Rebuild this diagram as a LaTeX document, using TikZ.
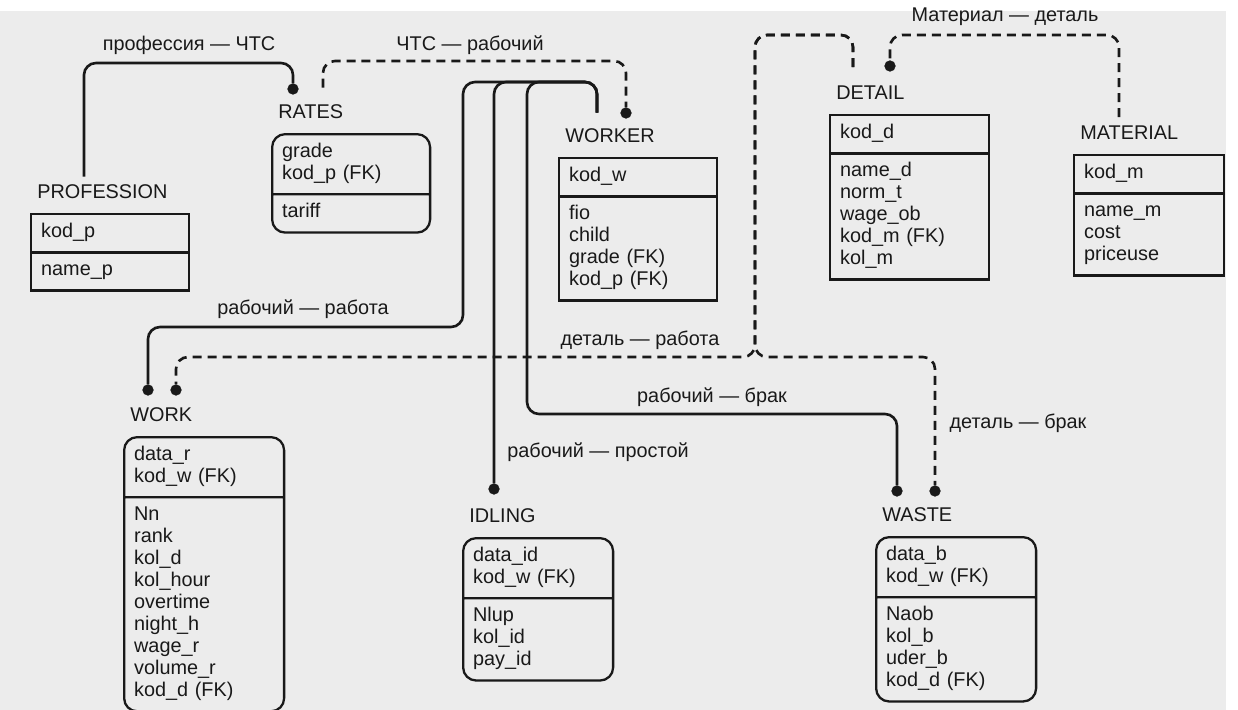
\documentclass[tikz,border=0pt]{standalone}
\usepackage{fontspec}
\setmainfont{Liberation Sans}
\usetikzlibrary{positioning,shapes.multipart}
\pgfdeclarelayer{background}
\pgfdeclarelayer{edgelayer}
\pgfdeclarelayer{nodelayer}
\pgfsetlayers{background,edgelayer,nodelayer,main}
\definecolor{paper}{rgb}{0.925,0.925,0.925}
\definecolor{ink}{rgb}{0.1,0.1,0.1}
\tikzstyle{none}=[inner sep=0pt]
\tikzstyle{entity}=[rectangle split,rectangle split parts=2,anchor=north west,draw=ink,line width=1.3pt,text=ink,align=left,text width=2.76cm,inner xsep=0.2cm,inner ysep=0.14cm,font=\fontsize{11.3}{12.5}\selectfont]
\tikzstyle{dependent}=[rounded corners=0.26cm]
\tikzstyle{title}=[inner sep=0pt,text=ink,font=\fontsize{11.3}{12.5}\selectfont]
\tikzstyle{relname}=[inner sep=0pt,text=ink,font=\fontsize{11.3}{12.5}\selectfont]
\tikzstyle{enddot}=[circle,fill=ink,draw=ink,inner sep=0pt,minimum size=0.21cm]
\tikzstyle{ident}=[-,draw=ink,line width=1.5pt,rounded corners=0.24cm]
\tikzstyle{nonident}=[ident,dash pattern=on 0.18cm off 0.12cm]

\begin{document}
\begin{tikzpicture}[x=0.02cm,y=-0.02cm]
	\useasboundingbox (0,0) rectangle (1238,710);
	\begin{pgfonlayer}{background}
		\fill [paper] (0,11) rectangle (1226,710);
	\end{pgfonlayer}
	\begin{pgfonlayer}{nodelayer}
		% entities
		\node [style=entity] (prof) at (30,213) {\strut kod\_p\nodepart{two}\strut name\_p};
		\node [style=entity, style=dependent] (rates) at (271,133) {\strut grade\\\strut kod\_p (FK)\nodepart{two}\strut tariff};
		\node [style=entity] (worker) at (558,157) {\strut kod\_w\nodepart{two}\strut fio\\\strut child\\\strut grade (FK)\\\strut kod\_p (FK)};
		\node [style=entity, text width=2.78cm] (detail) at (829,114) {\strut kod\_d\nodepart{two}\strut name\_d\\\strut norm\_t\\\strut wage\_ob\\\strut kod\_m (FK)\\\strut kol\_m};
		\node [style=entity, text width=2.6cm] (material) at (1073,154) {\strut kod\_m\nodepart{two}\strut name\_m\\\strut cost\\\strut priceuse};
		\node [style=entity, style=dependent, text width=2.8cm] (work) at (123,436) {\strut data\_r\\\strut kod\_w (FK)\nodepart{two}\strut Nn\\\strut rank\\\strut kol\_d\\\strut kol\_hour\\\strut overtime\\\strut night\_h\\\strut wage\_r\\\strut volume\_r\\\strut kod\_d (FK)};
		\node [style=entity, style=dependent, text width=2.6cm] (idling) at (462,537) {\strut data\_id\\\strut kod\_w (FK)\nodepart{two}\strut Nlup\\\strut kol\_id\\\strut pay\_id};
		\node [style=entity, style=dependent, text width=2.8cm] (waste) at (875,536) {\strut data\_b\\\strut kod\_w (FK)\nodepart{two}\strut Naob\\\strut kol\_b\\\strut uder\_b\\\strut kod\_d (FK)};
		% entity names
		\node [style=title, above right=0.28cm and 0.14cm of prof.north west] (prof-t) {PROFESSION};
		\node [style=title, above right=0.28cm and 0.14cm of rates.north west] (rates-t) {RATES};
		\node [style=title, above right=0.28cm and 0.14cm of worker.north west] (worker-t) {WORKER};
		\node [style=title, above right=0.28cm and 0.14cm of detail.north west] (detail-t) {DETAIL};
		\node [style=title, above right=0.28cm and 0.14cm of material.north west] (material-t) {MATERIAL};
		\node [style=title, above right=0.28cm and 0.14cm of work.north west] (work-t) {WORK};
		\node [style=title, above right=0.28cm and 0.14cm of idling.north west] (idling-t) {IDLING};
		\node [style=title, above right=0.28cm and 0.14cm of waste.north west] (waste-t) {WASTE};
		% relationship names
		\node [style=relname] (r-pr) at (189,45) {профессия — ЧТС};
		\node [style=relname] (r-rw) at (470,45) {ЧТС — рабочий};
		\node [style=relname] (r-md) at (1005,17) {Материал — деталь};
		\node [style=relname] (r-ww) at (303,309) {рабочий — работа};
		\node [style=relname] (r-dw) at (640,340) {деталь — работа};
		\node [style=relname] (r-wb) at (712,397) {рабочий — брак};
		\node [style=relname] (r-wi) at (598,452) {рабочий — простой};
		\node [style=relname] (r-db) at (1018,423) {деталь — брак};
		% many ends
		\node [style=enddot] (d-rates) at (293,89) {};
		\node [style=enddot] (d-worker) at (626,113) {};
		\node [style=enddot] (d-detail) at (890,66) {};
		\node [style=enddot] (d-work1) at (148,390) {};
		\node [style=enddot] (d-work2) at (176,390) {};
		\node [style=enddot] (d-idling) at (494,489) {};
		\node [style=enddot] (d-waste1) at (897,491) {};
		\node [style=enddot] (d-waste2) at (935,491) {};
		% one ends
		\coordinate (prof-s) at ([xshift=0.94cm,yshift=0.15cm]prof-t.north west);
		\coordinate (rates-s) at ([xshift=0.9cm,yshift=0.33cm]rates-t.north west);
		\coordinate (worker-s) at ([xshift=0.64cm,yshift=0.31cm]worker-t.north west);
		\coordinate (detail-s) at ([xshift=0.34cm,yshift=0.37cm]detail-t.north west);
		\coordinate (material-s) at ([xshift=0.78cm,yshift=0.17cm]material-t.north west);
	\end{pgfonlayer}
	\begin{pgfonlayer}{edgelayer}
		\draw [style=ident] (prof-s) -- (prof-s |- 0,63) -- (d-rates |- 0,63) -- (d-rates);
		\draw [style=nonident] (rates-s) -- (rates-s |- 0,61) -- (d-worker |- 0,61) -- (d-worker);
		\draw [style=ident] (worker-s) -- (worker-s |- 0,82) -- (463,82) -- (463,327) -- (d-work1 |- 0,327) -- (d-work1);
		\draw [style=ident] (worker-s) -- (worker-s |- 0,82) -- (d-idling |- 0,82) -- (d-idling);
		\draw [style=ident] (worker-s) -- (worker-s |- 0,82) -- (527,82) -- (527,414) -- (d-waste1 |- 0,414) -- (d-waste1);
		\draw [style=nonident] (detail-s) -- (detail-s |- 0,35) -- (755,35) -- (755,357) -- (d-work2 |- 0,357) -- (d-work2);
		\draw [style=nonident] (detail-s) -- (detail-s |- 0,35) -- (755,35) -- (755,357) -- (d-waste2 |- 0,357) -- (d-waste2);
		\draw [style=nonident] (material-s) -- (material-s |- 0,35) -- (d-detail |- 0,35) -- (d-detail);
	\end{pgfonlayer}
\end{tikzpicture}
\end{document}
